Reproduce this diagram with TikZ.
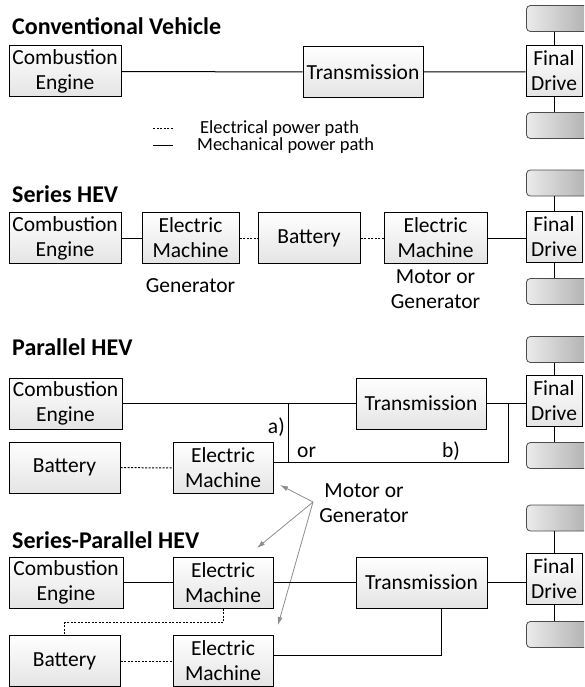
\documentclass[tikz,border=0pt]{standalone}
\usepackage{fontspec}
\setmainfont{Carlito}
\usepackage{xcolor}
\usepackage{tikz}
\usetikzlibrary{positioning,arrows.meta,calc}
\definecolor{boxtop}{RGB}{255,255,255}
\definecolor{boxbot}{RGB}{228,228,228}
\definecolor{wheell}{RGB}{235,235,235}
\definecolor{wheelr}{RGB}{150,150,150}
\definecolor{hintclr}{RGB}{140,140,140}
\tikzset{
  unit/.style={rectangle,draw=black,line width=1pt,top color=boxtop,bottom color=boxbot,
               minimum height=51pt,inner sep=1pt,align=center,
               font=\fontsize{21.5}{25}\selectfont},
  wheel/.style={rectangle,draw=black!70,line width=0.8pt,rounded corners=4pt,
                left color=wheell,right color=wheelr,minimum width=90pt,minimum height=26pt},
  ttl/.style={anchor=base west,inner sep=0pt,font=\fontsize{24}{28}\selectfont\bfseries},
  lbl/.style={inner sep=0pt,align=center,font=\fontsize{21.5}{25}\selectfont},
  lgd/.style={anchor=base west,inner sep=0pt,font=\fontsize{18.5}{22}\selectfont},
  mech/.style={line width=1pt},
  elec/.style={line width=1pt,dash pattern=on 2pt off 1.5pt},
  hint/.style={-{Latex[length=8pt,width=5pt]},draw=hintclr,line width=0.8pt},
}

\begin{document}
\begin{tikzpicture}[x=1pt, y=-1pt]
\path[use as bounding box,clip] (0,0) rectangle (584,687);

% ── Conventional vehicle
\node[ttl] (t1) at (12,35) {Conventional Vehicle};
\node[unit,minimum width=112pt] (ce1) at (65,71.5) {Combustion\\Engine};
\node[unit,minimum width=120pt] (tr1) at (363,72) {Transmission};
\node[unit,minimum width=56pt] (fd1) at (554,71) {Final\\Drive};
\node[wheel,anchor=west] (w1a) at (526,18.5) {};
\node[wheel,anchor=west] (w1b) at (526,125.5) {};
\draw[mech] (ce1) -- (tr1) -- (tr1 -| fd1.west);
\draw[mech] (fd1.north) -- (fd1.north |- w1a.south);
\draw[mech] (fd1.south) -- (fd1.south |- w1b.north);

% legend
\coordinate (le1) at (153,129);
\coordinate (le2) at (173,129);
\coordinate (lm1) at (153,146);
\coordinate (lm2) at (173,146);
\draw[elec] (le1) -- (le2);
\draw[mech] (lm1) -- (lm2);
\node[lgd] (lgE) at (200,134) {Electrical power path};
\node[lgd] (lgM) at (197,151) {Mechanical power path};

% ── Series HEV
\node[ttl] (t2) at (12,202) {Series HEV};
\node[unit,minimum width=112pt] (ce2) at (65,238) {Combustion\\Engine};
\node[unit,minimum width=97pt] (em2a) at (190.5,238) {Electric\\Machine};
\node[unit,minimum width=102pt] (bat2) at (309,238) {Battery};
\node[unit,minimum width=103pt] (em2b) at (435.5,238) {Electric\\Machine};
\node[unit,minimum width=56pt] (fd2) at (554,236.5) {Final\\Drive};
\node[wheel,anchor=west] (w2a) at (526,183) {};
\node[wheel,anchor=west] (w2b) at (526,291.5) {};
\draw[mech] (ce2) -- (em2a);
\draw[elec] (em2a) -- (bat2);
\draw[elec] (bat2) -- (em2b);
\draw[mech] (em2b.east) -- (em2b.east -| fd2.west);
\draw[mech] (fd2.north) -- (fd2.north |- w2a.south);
\draw[mech] (fd2.south) -- (fd2.south |- w2b.north);
\node[lbl,anchor=base] (gen2) at (190.5,292.5) {Generator};
\node[lbl,anchor=north] (mog2) at (435.5,270) {Motor or\\Generator};

% ── Parallel HEV
\node[ttl] (t3) at (12,355) {Parallel HEV};
\node[unit,minimum width=113pt] (ce3) at (65.5,403.5) {Combustion\\Engine};
\node[unit,minimum width=130pt] (tr3) at (421,403.5) {Transmission};
\node[unit,minimum width=56pt] (fd3) at (554,400.5) {Final\\Drive};
\node[wheel,anchor=west] (w3a) at (526,349.5) {};
\node[wheel,anchor=west] (w3b) at (526,455.5) {};
\node[unit,minimum width=111pt] (bat3) at (64.5,467.5) {Battery};
\node[unit,minimum width=100pt] (em3) at (223,468) {Electric\\Machine};
\coordinate (ja) at (288,403.5);
\coordinate (jb) at (508,462);
\draw[mech] (ce3) -- (tr3) -- (tr3.east -| fd3.west);
\draw[mech] (ja) -- (ja |- jb);
\draw[mech] (em3.east |- jb) -- (jb) -- (jb |- tr3.east);
\draw[elec] (bat3) -- (em3);
\draw[mech] (fd3.north) -- (fd3.north |- w3a.south);
\draw[mech] (fd3.south) -- (fd3.south |- w3b.north);
\node[lbl,anchor=base east] (pa) at (285,433) {a)};
\node[lbl,anchor=base west] (por) at (297,457) {or};
\node[lbl,anchor=base west] (pb) at (442,457) {b)};

% motor or generator hint
\node[lbl,anchor=north] (mog) at (364,483) {Motor or\\Generator};
\coordinate (hs) at (313,502);
\coordinate (h1) at (280,485);
\coordinate (h2) at (257,548);
\coordinate (h3) at (278,625);
\draw[hint] (hs) -- (h1);
\draw[hint] (hs) -- (h2);
\draw[hint] (hs) -- (h3);

% ── Series-Parallel HEV
\node[ttl] (t4) at (12,548) {Series-Parallel HEV};
\node[unit,minimum width=114pt] (ce4) at (66,582.5) {Combustion\\Engine};
\node[unit,minimum width=100pt] (em4a) at (223,582.5) {Electric\\Machine};
\node[unit,minimum width=131pt] (tr4) at (421.5,582.5) {Transmission};
\node[unit,minimum width=56pt] (fd4) at (554,579) {Final\\Drive};
\node[wheel,anchor=west] (w4a) at (526,518) {};
\node[wheel,anchor=west] (w4b) at (526,634.5) {};
\node[unit,minimum width=111pt] (bat4) at (64.5,661) {Battery};
\node[unit,minimum width=100pt] (em4b) at (223,661) {Electric\\Machine};
\coordinate (jc) at (441,655);
\draw[mech] (ce4) -- (em4a) -- (tr4) -- (tr4.east -| fd4.west);
\draw[mech] (em4b.east |- jc) -- (jc) -- (jc |- tr4.south);
\draw[elec] (em4a.south) -- ++(0,14) -| (bat4.north);
\draw[elec] (bat4) -- (em4b);
\draw[mech] (fd4.north) -- (fd4.north |- w4a.south);
\draw[mech] (fd4.south) -- (fd4.south |- w4b.north);

\end{tikzpicture}
\end{document}
